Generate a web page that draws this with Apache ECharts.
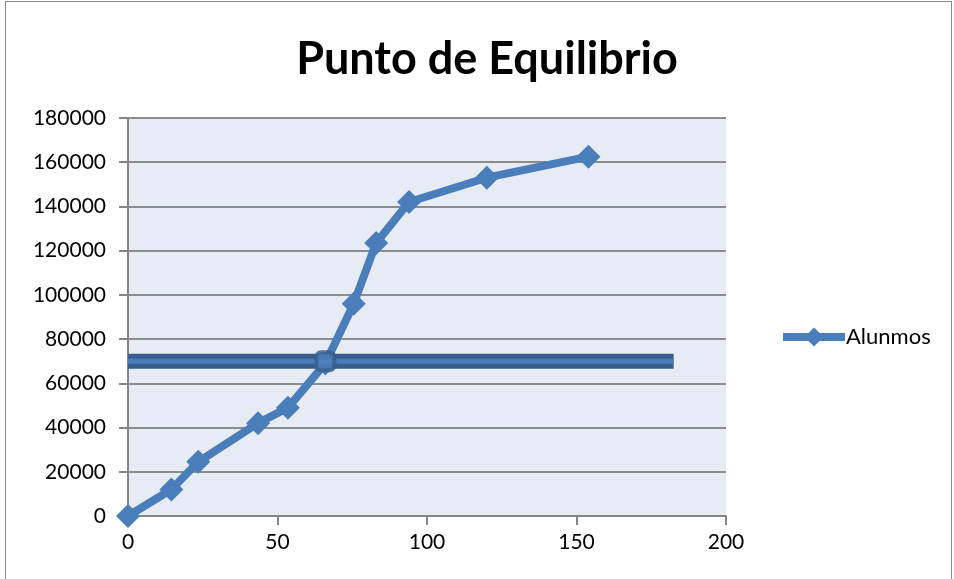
<!DOCTYPE html>
<html>
<head>
<meta charset="utf-8">
<script src="https://cdn.jsdelivr.net/npm/echarts@6/dist/echarts.min.js"></script>
<style>
  html, body { margin: 0; padding: 0; background: #fff; }
  #frame { position: absolute; left: 5px; top: 1px; width: 947px; height: 600px; border: 1.5px solid #8c8c8c; box-sizing: border-box; }
  #chart { position: absolute; left: 0; top: 0; width: 954px; height: 579px; }
</style>
</head>
<body>
<div id="frame"></div>
<div id="chart"></div>
<script>
// Students vs. income, with the break-even level as a horizontal reference
const alumnosX = [0, 14.5, 23.5, 43.5, 53.5, 66, 75.5, 83, 94, 120, 154];
const alumnosY = [0, 12000, 24500, 42000, 49000, 69000, 96000, 123500, 142000, 153000, 162500];
const equilibrioX = [0, 182.5];
const equilibrioY = [70000, 70000];
const cruceX = [66];
const cruceY = [70000];
const yTicks = [0, 20000, 40000, 60000, 80000, 100000, 120000, 140000, 160000, 180000];
const xTicks = [0, 50, 100, 150, 200];

const pairs = (xs, ys) => xs.map((x, i) => [x, ys[i]]);
const font = 'Lato, "Open Sans", sans-serif';

const chart = echarts.init(document.getElementById('chart'));
chart.setOption({
  animation: false,
  title: {
    text: 'Punto de Equilibrio',
    left: 482, top: 32, textAlign: 'center',
    textStyle: { fontFamily: font, fontSize: 45, fontWeight: 'bold', color: '#000' }
  },
  legend: {
    data: ['Alunmos'],
    left: 774, top: 321,
    itemWidth: 62, itemHeight: 24, itemGap: 0,
    lineStyle: { width: 8 },
    textStyle: { fontFamily: font, fontSize: 22, color: '#000', padding: [0, 0, 0, -4] }
  },
  grid: { left: 128, top: 118, width: 598, height: 398, show: true, backgroundColor: '#E7EBF4', borderWidth: 0 },
  xAxis: {
    type: 'value', min: xTicks[0], max: xTicks[xTicks.length - 1], interval: 50,
    axisLine: { show: true, onZero: false, lineStyle: { color: '#868686', width: 2 } },
    axisTick: { show: true, length: 9, lineStyle: { color: '#868686', width: 2 } },
    splitLine: { show: false },
    axisLabel: { fontFamily: font, fontSize: 21, color: '#000', margin: 16 }
  },
  yAxis: {
    type: 'value', min: yTicks[0], max: yTicks[yTicks.length - 1], interval: 20000,
    axisLine: { show: true, onZero: false, lineStyle: { color: '#868686', width: 2 } },
    axisTick: { show: true, length: 9, lineStyle: { color: '#868686', width: 2 } },
    splitLine: { show: true, lineStyle: { color: '#8c8c8c', width: 2 } },
    axisLabel: { fontFamily: font, fontSize: 21, color: '#000', margin: 22, formatter: v => String(v) }
  },
  series: [
    {
      name: 'Alunmos', type: 'line', data: pairs(alumnosX, alumnosY),
      symbol: 'diamond', symbolSize: 24,
      lineStyle: { color: '#4A7EBB', width: 8 },
      itemStyle: { color: '#4A7EBB' },
      z: 2
    },
    {
      name: 'borde', type: 'line', data: pairs(equilibrioX, equilibrioY),
      symbol: 'none', lineStyle: { color: '#385D8A', width: 15, cap: 'butt' },
      z: 3, silent: true
    },
    {
      name: 'equilibrio', type: 'line', data: pairs(equilibrioX, equilibrioY),
      symbol: 'none', lineStyle: { color: '#4A7EBB', width: 5, cap: 'butt' },
      z: 4, silent: true
    },
    {
      name: 'cruce', type: 'scatter', data: pairs(cruceX, cruceY),
      symbol: 'roundRect', symbolSize: 18,
      itemStyle: { color: '#4F81BD', borderColor: '#385D8A', borderWidth: 4 },
      z: 5, silent: true
    }
  ]
});
</script>
</body>
</html>
